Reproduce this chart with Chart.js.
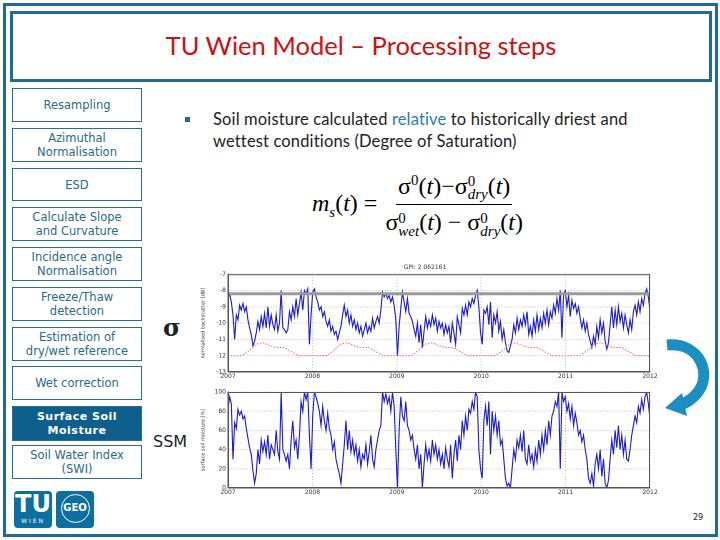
<!DOCTYPE html>
<html>
<head>
<meta charset="utf-8">
<script src="https://cdn.jsdelivr.net/npm/chart.js@4.4.1/dist/chart.umd.min.js"></script>
<style>
  body { margin: 0; background: #fff; }
  #slide { position: relative; width: 720px; height: 540px; overflow: hidden; font-family: 'DejaVu Sans', sans-serif; }
  .frame { position: absolute; left: 3px; top: 3px; width: 709px; height: 528px; border: 3px solid #1d6b96; }
  .titlebox { position: absolute; left: 10px; top: 11px; width: 696px; height: 62px; border: 3px solid #1d6b96;
    display: flex; align-items: center; justify-content: center; font-family: Lato, sans-serif; font-size: 25.5px; color: #cc1111; padding-bottom: 3px; box-sizing: content-box; }
  .step { position: absolute; left: 12px; width: 130px; box-sizing: border-box; border: 1px solid #2a6f8f;
    display: flex; align-items: center; justify-content: center; text-align: center; font-size: 11.5px; line-height: 14px; color: #2a6a8a; }
  .step.on { background: #0f5f8c; color: #fff; font-weight: bold; letter-spacing: 0.5px; font-size: 11px; }
  .bullet { position: absolute; left: 185px; top: 117px; width: 5px; height: 5px; background: #1d6b96; }
  .btext { position: absolute; left: 213px; top: 108px; font-family: Lato, sans-serif; font-size: 16.5px; line-height: 22px; color: #222; letter-spacing: 0.15px; }
  .btext b { font-weight: normal; color: #2b7bb0; }
  #formula { position: absolute; left: 312px; top: 172px; font-family: 'Liberation Serif', serif; font-size: 24px; display: flex; align-items: center; color: #000; }
  .frac { display: inline-flex; flex-direction: column; align-items: center; }
  .frac .num { border-bottom: 1px solid #000; padding: 0 2px 3px; }
  .frac .den { padding: 4px 2px 0; }
  .ss { display: inline-flex; flex-direction: column; font-size: 15px; line-height: 13px; vertical-align: middle; font-style: italic; }
  .ss span:first-child { font-style: normal; }
  .sym { position: absolute; color: #222; }
  canvas { position: absolute; }
  .logo { position: absolute; top: 491px; width: 38px; height: 37px; background: #0d6ea0; border-radius: 4px; color: #fff; text-align: center; }
  .page { position: absolute; left: 693px; top: 513px; font-size: 8px; color: #222; }
</style>
</head>
<body>
<div id="slide">
  <div class="frame"></div>
  <div class="titlebox">TU Wien Model – Processing steps</div>

  <div class="step" style="top:88px;height:34px">Resampling</div>
  <div class="step" style="top:128px;height:34px">Azimuthal<br>Normalisation</div>
  <div class="step" style="top:168px;height:33px">ESD</div>
  <div class="step" style="top:207px;height:34px">Calculate Slope<br>and Curvature</div>
  <div class="step" style="top:247px;height:34px">Incidence angle<br>Normalisation</div>
  <div class="step" style="top:287px;height:34px">Freeze/Thaw<br>detection</div>
  <div class="step" style="top:327px;height:34px">Estimation of<br>dry/wet reference</div>
  <div class="step" style="top:366px;height:34px">Wet correction</div>
  <div class="step on" style="top:406px;height:35px">Surface Soil<br>Moisture</div>
  <div class="step" style="top:445px;height:34px">Soil Water Index<br>(SWI)</div>

  <div class="bullet"></div>
  <div class="btext">Soil moisture calculated <b>relative</b> to historically driest and<br>wettest conditions (Degree of Saturation)</div>

  <div id="formula">
    <span><i>m</i><sub style="font-size:15px"><i>s</i></sub>(<i>t</i>) =&nbsp;</span>
    <span class="frac">
      <span class="num">σ<sup style="font-size:15px">0</sup>(<i>t</i>)−σ<span class="ss"><span>0</span><span>dry</span></span>(<i>t</i>)</span>
      <span class="den">σ<span class="ss"><span>0</span><span>wet</span></span>(<i>t</i>) − σ<span class="ss"><span>0</span><span>dry</span></span>(<i>t</i>)</span>
    </span>
  </div>

  <div class="sym" style="left:163px;top:313px;font-size:24px;font-weight:bold;font-family:'DejaVu Serif',serif">σ</div>
  <div class="sym" style="left:153px;top:432px;font-size:16px">SSM</div>

  <canvas id="sigmaChart" width="460" height="122" style="left:200px;top:262px"></canvas>
  <canvas id="ssmChart" width="460" height="120" style="left:200px;top:380px"></canvas>

  <svg style="position:absolute;left:660px;top:334px" width="60" height="90">
    <path d="M7 11 C 40 8, 52 40, 38 58 C 32 66, 26 69, 20 71" fill="none" stroke="#1b8fc1" stroke-width="11"/>
    <polygon points="5,74 22,59 27,82" fill="#1b8fc1"/>
  </svg>

  <div class="logo" style="left:14px">
    <div style="font-size:24px;font-weight:bold;line-height:26px;font-family:'DejaVu Sans'">TU</div>
    <div style="font-size:6px;letter-spacing:2px;line-height:8px">WIEN</div>
  </div>
  <div class="logo" style="left:56px">
    <div style="margin:3px auto 0;width:29px;height:29px;border:1.5px solid #fff;border-radius:50%;box-sizing:border-box;font-size:10px;font-weight:bold;line-height:26px">GEO</div>
  </div>
  <div class="page">29</div>
</div>

<script>
/* data (2007 - 2012, even sampling) */
const yearTicks = [2007, 2008, 2009, 2010, 2011, 2012];
const startYear = 2007;
const endYear = 2012;

// normalised backscatter [dB]
const sigmaValues = [
  -8.5,-8.2,-8.7,-9.5,-11.0,-9.5,-9.8,-8.9,-9.2,-8.8,-9.3,-9.0,-9.8,-10.3,-10.7,-11.4,-11.1,-10.6,-9.9,-10.4,
  -9.6,-10.2,-9.4,-10.3,-9.0,-10.2,-9.5,-10.1,-10.4,-9.5,-10.5,-10.0,-8.0,-10.3,-10.4,-10.6,-10.4,-9.3,-9.8,-9.0,
  -9.6,-8.5,-9.5,-8.8,-8.1,-9.2,-8.0,-8.2,-7.9,-11.3,-9.5,-8.1,-7.9,-8.4,-8.7,-9.2,-9.0,-9.6,-9.3,-9.9,
  -10.2,-9.8,-10.5,-10.2,-10.7,-10.5,-11.0,-10.6,-10.2,-9.5,-8.9,-9.6,-9.2,-10.0,-9.5,-10.2,-9.8,-10.4,-10.0,-10.6,
  -10.2,-10.8,-10.4,-10.0,-10.6,-10.2,-10.5,-9.7,-10.3,-9.9,-9.6,-10.0,-9.2,-8.1,-8.4,-8.2,-8.5,-8.3,-8.7,-8.4,
  -8.9,-9.8,-12.0,-10.2,-9.1,-8.1,-8.7,-9.3,-8.5,-9.4,-9.6,-9.9,-10.4,-10.8,-10.0,-11.2,-10.1,-11.5,-10.5,-9.6,
  -10.3,-9.8,-10.2,-9.5,-10.1,-9.7,-10.5,-9.9,-10.3,-10.0,-10.7,-10.1,-10.6,-10.2,-11.2,-10.0,-10.6,-11.3,-9.6,-10.1,
  -10.6,-9.1,-9.5,-8.9,-9.5,-8.7,-9.0,-8.5,-8.8,-8.3,-8.0,-9.0,-10.6,-11.3,-9.2,-9.4,-9.0,-10.1,-8.7,-10.9,
  -9.5,-10.0,-9.3,-10.5,-9.9,-11.0,-10.4,-11.2,-11.7,-11.8,-11.4,-11.0,-10.1,-10.6,-9.7,-10.4,-9.8,-10.2,-9.5,-10.1,
  -9.3,-10.7,-10.2,-10.8,-9.8,-10.5,-9.5,-10.4,-9.7,-10.3,-9.4,-10.0,-9.2,-10.1,-9.3,-9.7,-8.9,-9.4,-8.5,-9.2,
  -8.0,-10.9,-8.2,-8.0,-9.0,-8.3,-9.6,-8.6,-9.1,-8.8,-9.4,-9.0,-9.7,-10.3,-9.8,-10.5,-10.0,-10.7,-11.1,-11.5,
  -10.8,-11.3,-10.2,-10.9,-9.8,-10.6,-10.0,-11.1,-11.6,-11.2,-10.1,-9.0,-10.3,-9.2,-10.1,-9.0,-9.9,-9.4,-10.3,-9.5,
  -10.1,-10.6,-9.8,-10.4,-9.3,-8.9,-9.5,-8.7,-9.3,-8.5,-8.9,-8.2,-7.9,-8.4,-9.2
];

// dry reference, one value per month
const dryRef = [
  -12.0,-12.0,-12.0,-11.7,-11.3,-11.2,-11.4,-11.5,-11.5,-11.75,-12.0,-12.0,
  -12.0,-12.0,-12.0,-11.7,-11.3,-11.2,-11.4,-11.5,-11.5,-11.75,-12.0,-12.0,
  -12.0,-12.0,-12.0,-11.7,-11.3,-11.2,-11.4,-11.5,-11.5,-11.75,-12.0,-12.0,
  -12.0,-12.0,-12.0,-11.7,-11.3,-11.2,-11.4,-11.5,-11.5,-11.75,-12.0,-12.0,
  -12.0,-12.0,-12.0,-11.7,-11.3,-11.2,-11.4,-11.5,-11.5,-11.75,-12.0,-12.0,
  -12.0
];

// wet reference (flat)
const wetRef = -8.2;

// surface soil moisture [%]
const ssmValues = [
  82,95,88,30,68,62,82,76,80,72,75,62,52,42,35,18,5,15,40,25,
  50,38,48,35,55,30,45,40,35,60,38,30,100,40,35,28,35,20,50,70,
  42,50,30,55,90,80,100,92,100,55,20,75,100,95,88,80,65,85,70,60,
  78,62,55,40,48,30,22,15,5,25,45,70,40,60,38,50,35,45,28,40,
  22,35,30,45,25,38,55,30,22,40,50,60,65,100,90,98,88,95,80,100,
  85,40,0,60,95,75,70,90,65,60,50,55,40,30,45,20,35,0,25,45,
  30,40,28,50,35,45,30,40,25,35,20,42,30,22,45,10,35,50,28,55,
  40,70,55,75,60,82,78,90,82,100,95,40,20,10,70,85,65,90,35,80,
  60,75,55,70,45,50,30,10,2,5,0,20,40,30,50,42,55,38,60,30,
  25,45,28,35,22,40,28,50,35,55,40,60,45,70,55,75,80,90,85,100,
  20,100,90,95,80,88,72,85,65,78,68,55,60,48,55,40,30,10,5,15,
  2,25,35,20,40,12,30,5,0,8,30,50,35,60,42,65,40,55,35,50,
  30,28,40,55,65,75,68,85,78,92,82,95,100,88,72
];

/* evenly sampled series -> {x: decimal year, y} */
function toPoints(values) {
  const n = values.length;
  return values.map((v, i) => ({ x: startYear + i * (endYear - startYear) / (n - 1), y: v }));
}

const frameBox = {
  id: 'frameBox',
  afterDraw(c) {
    const a = c.chartArea, g = c.ctx;
    g.save(); g.strokeStyle = '#555'; g.lineWidth = 1;
    g.strokeRect(a.left + 0.5, a.top + 0.5, a.width - 1, a.height - 1);
    g.restore();
  }
};

const tickFont = { family: 'DejaVu Sans', size: 6 };

function makeSeriesChart(canvasId, datasets, opts) {
  const ctx = document.getElementById(canvasId).getContext('2d');
  return new Chart(ctx, {
    type: 'line',
    data: { datasets },
    options: {
      responsive: false, animation: false, devicePixelRatio: 2,
      parsing: false, normalized: true,
      layout: { padding: { top: opts.padTop, right: 10, left: 0, bottom: 0 } },
      plugins: {
        legend: { display: false }, tooltip: { enabled: false },
        title: { display: !!opts.title, text: opts.title, font: { family: 'DejaVu Sans', size: 6, weight: 'normal' }, color: '#333', padding: { top: 1, bottom: 3 } }
      },
      elements: { point: { radius: 0 }, line: { tension: 0 } },
      scales: {
        x: {
          type: 'linear', min: startYear, max: endYear,
          afterBuildTicks: s => { s.ticks = yearTicks.map(v => ({ value: v })); },
          afterFit: s => { s.height = 12; },
          ticks: { font: tickFont, color: '#333', padding: 1, maxRotation: 0, callback: v => String(v) },
          grid: { color: '#bbb', drawTicks: false },
          border: { color: '#555', dash: [1, 2] }
        },
        y: {
          min: opts.min, max: opts.max,
          afterFit: s => { s.width = 28; },
          ticks: { font: tickFont, color: '#333', stepSize: opts.step, padding: 2 },
          grid: { color: '#bbb', drawTicks: false },
          border: { color: '#555', dash: [1, 2] },
          title: { display: true, text: opts.yTitle, font: { family: 'DejaVu Sans', size: 5 }, color: '#333', padding: 0 }
        }
      }
    },
    plugins: [frameBox]
  });
}

makeSeriesChart('sigmaChart', [
  { data: [{ x: startYear, y: wetRef }, { x: endYear, y: wetRef }], borderColor: '#9a9a9a', borderWidth: 3 },
  { data: dryRef.map((v, i) => ({ x: startYear + i / 12, y: v })), borderColor: '#e07070', borderWidth: 1, borderDash: [1.5, 1.5] },
  { data: toPoints(sigmaValues), borderColor: '#1c1cc8', borderWidth: 1.1 }
], { min: -13, max: -7, step: 1, yTitle: 'normalised backscatter [dB]', title: 'GPI: 2 062161', padTop: 1 });

makeSeriesChart('ssmChart', [
  { data: toPoints(ssmValues), borderColor: '#1c1cc8', borderWidth: 1.1 }
], { min: 0, max: 100, step: 20, yTitle: 'surface soil moisture [%]', padTop: 12 });
</script>
</body>
</html>
